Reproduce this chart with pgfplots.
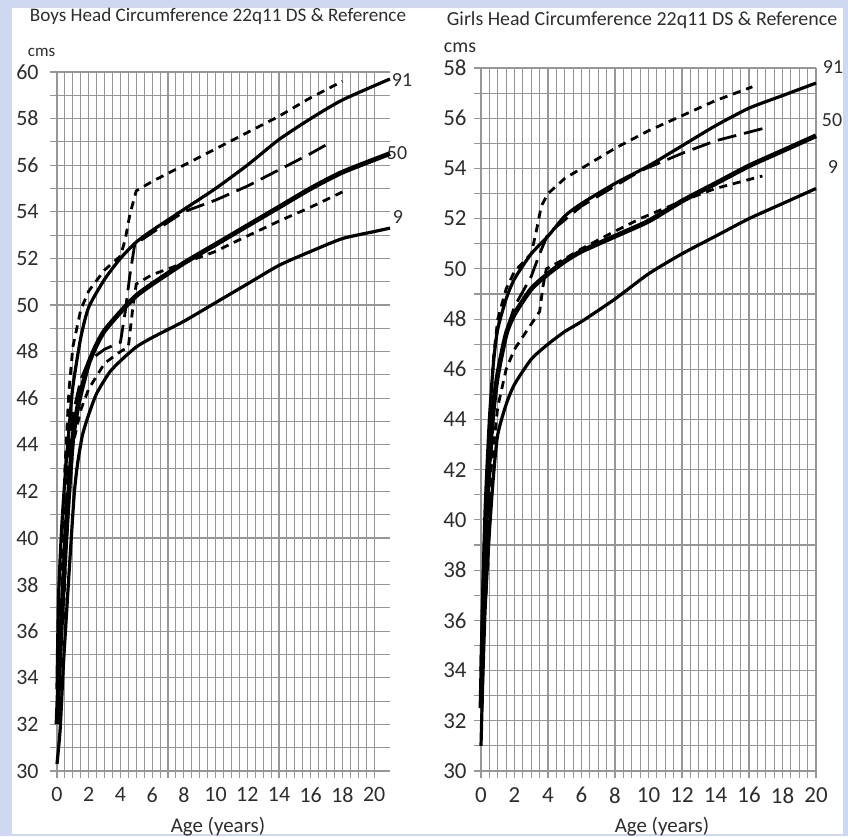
\documentclass[border=0pt]{standalone}
\usepackage{pgfplots}
\pgfplotsset{compat=1.18}
\usepackage{fontspec}
\setmainfont{Carlito}
\definecolor{frame}{RGB}{206,217,241}
\definecolor{gridc}{RGB}{150,150,150}
\definecolor{txt}{RGB}{45,45,45}

\pgfplotsset{
  hcaxis/.style={
    scale only axis,
    axis line style={gridc, line width=1.2bp},
    grid=both,
    major grid style={gridc, line width=1.1bp},
    minor grid style={gridc, line width=1.1bp},
    tick style={gridc, line width=1.1bp},
    tick align=outside,
    major tick length=7bp, minor tick length=7bp,
    xtick={0,2,...,20}, minor x tick num=3,
    minor y tick num=1,
    axis x line*=bottom, axis y line*=left,
    /pgf/number format/assume math mode=true,
    ticklabel style={text=txt},
    clip=false,
  },
  ref/.style={black, line width=3.2bp, line join=round, smooth, tension=0.4},
  refmid/.style={black, line width=4.8bp, line join=round, smooth, tension=0.4},
  dsshort/.style={black, line width=2.8bp, dash pattern=on 8bp off 6bp},
  dslong/.style={black, line width=2.8bp, dash pattern=on 19bp off 8bp},
}

\begin{document}
\begin{tikzpicture}[x=1bp,y=1bp]
\fill[frame] (0,0) rectangle (848,836);
\fill[white] (12,2) rectangle (843,828);

% ---------------- Boys ----------------
\begin{axis}[hcaxis,
  at={(57bp,65bp)}, anchor=south west,
  width=333bp, height=699bp,
  xmin=0, xmax=21, ymin=30, ymax=60,
  ytick={30,32,...,60},
  xticklabel style={font=\fontsize{22}{22}\selectfont, yshift=-6bp},
  yticklabel style={font=\fontsize{22}{22}\selectfont, xshift=-8bp},
]
% reference 9th
\addplot[ref] coordinates {(0,30.3) (0.2,31.8) (0.4,34.5) (0.65,37.3) (0.9,40) (1.1,42) (1.3,43.2) (1.6,44.4) (2,45.3) (2.5,46.2) (3.3,47.1) (4,47.6) (5,48.2) (6,48.6) (8,49.3) (10,50.1) (12,50.9) (14,51.7) (16,52.3) (18,52.85) (20,53.15) (21,53.3)};
% reference 50th
\addplot[refmid] coordinates {(0,32) (0.15,34.5) (0.4,38) (0.65,41) (0.85,43) (1,44.3) (1.3,45.6) (1.6,46.5) (2,47.5) (2.5,48.3) (3,48.9) (4,49.7) (5,50.4) (6,50.9) (8,51.8) (10,52.6) (12,53.4) (14,54.2) (16,55) (18,55.7) (21,56.5)};
% reference 91st
\addplot[ref] coordinates {(0,33.5) (0.1,37.5) (0.3,40.5) (0.55,43) (0.8,45) (1,46.5) (1.5,48.6) (2,49.9) (3,51.1) (4,52) (5,52.7) (6,53.2) (8,54.1) (10,55) (12,56) (14,57.1) (16,58) (18,58.8) (21,59.7)};
% 22q11 DS 91st
\addplot[dsshort] coordinates {(0.3,38) (0.5,43) (0.75,46.3) (1,48.2) (1.5,49.8) (2,50.6) (3,51.5) (4,52.1) (4.3,52.8) (4.6,53.9) (5,54.9) (6,55.3) (8,56) (10,56.7) (12,57.4) (14,58.1) (16,58.9) (18,59.6)};
% 22q11 DS 50th
\addplot[dslong] coordinates {(0.3,36.5) (0.5,40.5) (0.75,43.5) (1,45.3) (1.5,46.8) (2,47.6) (3,48.1) (4,48.4) (4.3,49.7) (4.6,51.3) (4.9,52.6) (6,53.1) (8,54) (10,54.5) (12,55.1) (14,55.8) (16,56.5) (17.3,57)};
% 22q11 DS 9th
\addplot[dsshort] coordinates {(0.4,36.5) (0.6,40) (1,44) (1.5,45.5) (2,46.4) (3,47.5) (4,48) (4.5,48.2) (4.8,50) (5,50.9) (6,51.3) (8,51.8) (10,52.3) (11.5,52.8) (14,53.6) (16,54.2) (18,54.85)};
\end{axis}

% ---------------- Girls ----------------
\begin{axis}[hcaxis,
  at={(481bp,65bp)}, anchor=south west,
  width=335bp, height=703bp,
  xmin=0, xmax=20, ymin=30, ymax=58,
  ytick={30,32,...,58},
  xticklabel style={font=\fontsize{23}{23}\selectfont, yshift=-6bp},
  yticklabel style={font=\fontsize{23}{23}\selectfont, xshift=-4bp},
]
\addplot[ref] coordinates {(0,31) (0.1,33.5) (0.25,36.5) (0.5,39.5) (0.75,41.8) (1,43.4) (1.5,44.6) (2,45.4) (3,46.4) (4,47) (5,47.5) (6,47.9) (8,48.8) (10,49.8) (12,50.6) (14,51.3) (16,52) (18,52.6) (20,53.2)};
\addplot[refmid] coordinates {(0,32.5) (0.1,35.5) (0.25,39) (0.5,42.5) (0.75,44.5) (1,45.8) (1.5,47.4) (2,48.2) (3,49.2) (4,49.8) (5,50.3) (6,50.7) (8,51.3) (10,51.9) (12,52.7) (14,53.4) (16,54.1) (18,54.7) (20,55.3)};
\addplot[ref] coordinates {(0,34) (0.1,37) (0.25,40.5) (0.5,44) (0.75,46.3) (1,47.6) (1.5,48.8) (2,49.6) (3,50.6) (4,51.3) (5,52.1) (6,52.6) (8,53.4) (10,54.1) (12,54.9) (14,55.7) (16,56.4) (18,56.9) (20,57.4)};
\addplot[dsshort] coordinates {(0.3,38.5) (0.5,43.5) (0.75,46.5) (1,48) (1.5,49.2) (2,49.9) (3,50.6) (3.3,51.5) (3.6,52.5) (4,53) (5,53.6) (6,54) (8,54.8) (10,55.5) (12,56.1) (14,56.7) (16.2,57.25)};
\addplot[dslong] coordinates {(0.3,37) (0.5,41.5) (0.75,44.3) (1,45.8) (1.5,47.5) (2,48.5) (3,49.7) (3.5,50.6) (4,51.4) (6,52.5) (8,53.3) (9.5,53.9) (12,54.6) (14,55.1) (16.9,55.6)};
\addplot[dsshort] coordinates {(0.4,38) (0.6,42) (1,44.5) (1.5,46) (2,46.8) (3,47.8) (3.5,48.3) (3.7,49.3) (3.9,50) (5,50.4) (6,50.8) (8,51.5) (9.5,52) (12,52.7) (14,53.2) (16.8,53.7)};
\end{axis}

% titles and labels (positions in px from the top)
\begin{scope}[every node/.style={text=txt, inner sep=0pt}]
\node[font=\fontsize{19.2}{19.2}\selectfont] at (218,836-16) {Boys Head Circumference 22q11 DS \& Reference};
\node[font=\fontsize{20}{20}\selectfont] at (642,836-20) {Girls Head Circumference 22q11 DS \& Reference};
\node[font=\fontsize{17}{17}\selectfont] at (41.5,836-52) {cms};
\node[font=\fontsize{20}{20}\selectfont] at (460,836-48) {cms};
\node[font=\fontsize{21}{21}\selectfont] at (218,836-827) {Age (years)};
\node[font=\fontsize{21}{21}\selectfont] at (662,836-827) {Age (years)};
\node[font=\fontsize{20}{20}\selectfont] at (402,836-80) {91};
\node[font=\fontsize{20}{20}\selectfont] at (397,836-153) {50};
\node[font=\fontsize{20}{20}\selectfont] at (398,836-217) {9};
\node[font=\fontsize{20}{20}\selectfont] at (833,836-67) {91};
\node[font=\fontsize{20}{20}\selectfont] at (832,836-120) {50};
\node[font=\fontsize{20}{20}\selectfont] at (833,836-167) {9};
\end{scope}
\end{tikzpicture}
\end{document}
